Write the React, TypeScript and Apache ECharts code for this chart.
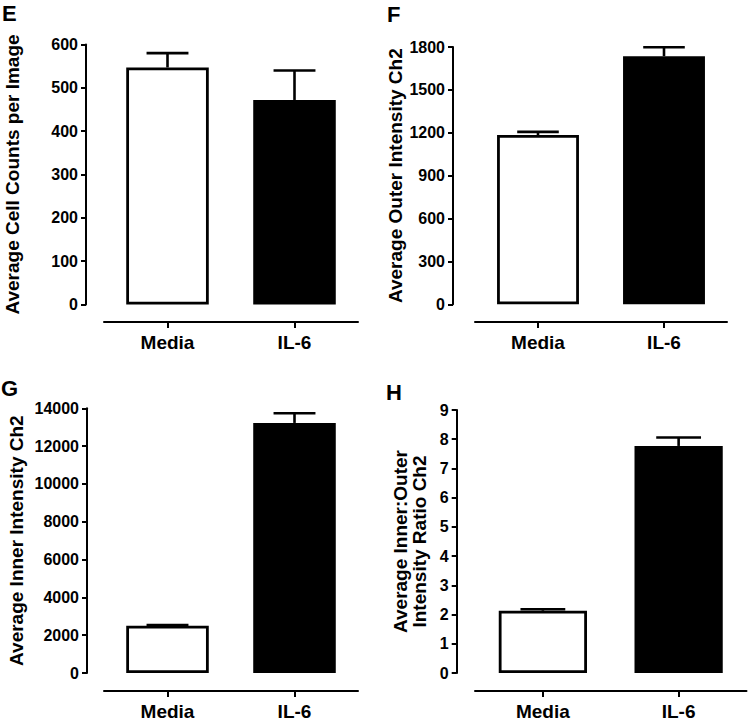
import React, { useEffect, useRef } from "react";
import * as echarts from "echarts";

// ---- data ----
const categories = ["Media", "IL-6"];

const cellCounts = [547, 472];
const cellCountsErr = [33, 68];

const outerIntensity = [1184, 1736];
const outerIntensityErr = [22, 62];

const innerIntensity = [2505, 13226];
const innerIntensityErr = [30, 510];

const innerOuterRatio = [2.13, 7.77];
const innerOuterRatioErr = [0.05, 0.29];

// axis ranges (tick labels come from min/max/interval)
const axisMax = [600, 1800, 14000, 9];
const axisInterval = [100, 300, 2000, 1];

const panelLetters = ["E", "F", "G", "H"];
const yTitles = [
  "Average Cell Counts per Image",
  "Average Outer Intensity Ch2",
  "Average Inner Intensity Ch2",
  "Average Inner:Outer\nIntensity Ratio Ch2",
];

const FONT = '"Liberation Sans", Arial, Helvetica, sans-serif';

// ---- layout (style only) ----
const layouts = [
  { left: 104, top: 44.5, width: 254, height: 260, yOffset: 18, xOffset: 17.5, nameGap: 64 },
  { left: 475, top: 47, width: 252, height: 257.3, yOffset: 22, xOffset: 17.7, nameGap: 48 },
  { left: 104, top: 408.3, width: 254, height: 266, yOffset: 17, xOffset: 18, nameGap: 61 },
  { left: 475, top: 410, width: 271.5, height: 264.3, yOffset: 18.3, xOffset: 18, nameGap: 27 },
];
const letterPos = [
  { x: 2, y: 2.5 },
  { x: 387, y: 3.5 },
  { x: 1, y: 377 },
  { x: 386, y: 381 },
];

export default function App() {
  const ref = useRef<HTMLDivElement>(null);

  useEffect(() => {
    document.body.style.margin = "0";
    if (!ref.current) return;
    const chart = echarts.init(ref.current, null, { renderer: "svg" });

    const means = [cellCounts, outerIntensity, innerIntensity, innerOuterRatio];
    const errs = [cellCountsErr, outerIntensityErr, innerIntensityErr, innerOuterRatioErr];

    const grid: any[] = [];
    const xAxis: any[] = [];
    const yAxis: any[] = [];
    const series: any[] = [];

    layouts.forEach((L, i) => {
      grid.push({ left: L.left, top: L.top, width: L.width, height: L.height });
      xAxis.push({
        type: "category",
        gridIndex: i,
        data: categories,
        offset: L.xOffset,
        axisLine: { show: true, onZero: false, lineStyle: { color: "#000", width: 2 } },
        axisTick: { show: true, alignWithLabel: true, length: 6, lineStyle: { color: "#000", width: 2 } },
        axisLabel: {
          color: "#000",
          fontFamily: FONT,
          fontWeight: "bold",
          fontSize: 19,
          margin: 11,
        },
        splitLine: { show: false },
      });
      yAxis.push({
        type: "value",
        gridIndex: i,
        min: 0,
        max: axisMax[i],
        interval: axisInterval[i],
        offset: L.yOffset,
        name: yTitles[i],
        nameLocation: "middle",
        nameGap: L.nameGap,
        nameTextStyle: {
          color: "#000",
          fontFamily: FONT,
          fontWeight: "bold",
          fontSize: 19,
          lineHeight: 19.5,
        },
        axisLine: { show: true, lineStyle: { color: "#000", width: 2 } },
        axisTick: { show: true, length: 5, lineStyle: { color: "#000", width: 2 } },
        axisLabel: {
          color: "#000",
          fontFamily: FONT,
          fontWeight: "bold",
          fontSize: 16,
          margin: 8,
          formatter: (v: number) => String(v),
        },
        splitLine: { show: false },
      });

      series.push({
        type: "bar",
        xAxisIndex: i,
        yAxisIndex: i,
        barWidth: "65%",
        data: means[i].map((v, k) => ({
          value: v,
          itemStyle: {
            color: k === 0 ? "#fff" : "#000",
            borderColor: "#000",
            borderWidth: 2.8,
          },
        })),
      });

      series.push({
        type: "custom",
        xAxisIndex: i,
        yAxisIndex: i,
        z: 3,
        encode: { x: 0, y: 1 },
        data: means[i].map((v, k) => [k, v, errs[i][k]]),
        renderItem: (_params: any, api: any) => {
          const x = api.value(0);
          const m = api.value(1);
          const e = api.value(2);
          const base = api.coord([x, m]);
          const top = api.coord([x, m + e]);
          const band = api.size([1, 0])[0];
          const half = band * 0.165;
          const style = { stroke: "#000", lineWidth: 2.6, fill: "none" };
          return {
            type: "group",
            children: [
              { type: "line", shape: { x1: base[0], y1: base[1], x2: top[0], y2: top[1] }, style },
              { type: "line", shape: { x1: top[0] - half, y1: top[1], x2: top[0] + half, y2: top[1] }, style },
            ],
          };
        },
      });
    });

    const graphic = panelLetters.map((t, i) => ({
      type: "text",
      left: letterPos[i].x,
      top: letterPos[i].y,
      style: {
        text: t,
        fill: "#000",
        fontSize: 22,
        fontWeight: "bold",
        fontFamily: FONT,
        lineHeight: 16,
      },
    }));

    chart.setOption({
      animation: false,
      backgroundColor: "#fff",
      grid,
      xAxis,
      yAxis,
      series,
      graphic,
    });

    return () => chart.dispose();
  }, []);

  return <div ref={ref} style={{ width: 750, height: 721 }} />;
}
